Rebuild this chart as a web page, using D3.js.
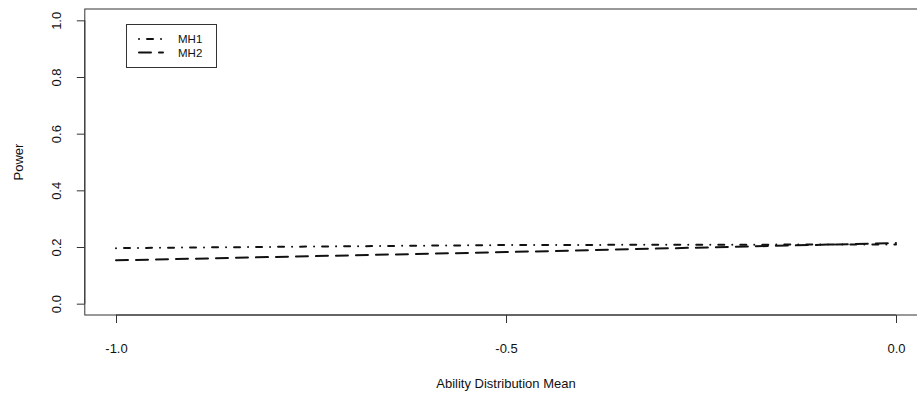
<!DOCTYPE html>
<html>
<head>
<meta charset="utf-8">
<script src="https://cdn.jsdelivr.net/npm/d3@7/dist/d3.min.js"></script>
<style>
  html, body { margin: 0; padding: 0; background: #fff; }
  svg { display: block; }
  text { font-family: "Liberation Sans", Arial, Helvetica, sans-serif; fill: #111; }
</style>
</head>
<body>
<svg id="chart" width="917" height="393"></svg>
<script>
// Power of two Mantel-Haenszel variants across ability distribution means
const abilityMeans = [-1.0, -0.5, 0.0];
const powerMH1 = [0.196, 0.207, 0.209];
const powerMH2 = [0.153, 0.182, 0.214];
const seriesNames = ["MH1", "MH2"];
const xTicks = [-1.0, -0.5, 0.0];
const yTicks = [0.0, 0.2, 0.4, 0.6, 0.8, 1.0];

const svg = d3.select("#chart");
const fontSize = 13;
// plain hyphen for negative numbers, one decimal place
const fmt = d => (d < 0 ? "-" : "") + Math.abs(d).toFixed(1);

// plot region in pixels
const plot = { left: 84.8, right: 927.2, top: 9, bottom: 315 };

// 4% padding around the data ranges
const xPad = 0.04 * 1.0, yPad = 0.04 * 1.0;
const x = d3.scaleLinear().domain([-1 - xPad, 0 + xPad]).range([plot.left, plot.right]);
const y = d3.scaleLinear().domain([0 - yPad, 1 + yPad]).range([plot.bottom, plot.top]);

const axisColor = "#333";

// box around the plot
svg.append("rect")
  .attr("x", plot.left).attr("y", plot.top)
  .attr("width", plot.right - plot.left).attr("height", plot.bottom - plot.top)
  .attr("fill", "none").attr("stroke", axisColor).attr("stroke-width", 1);

// x axis
const xAxis = d3.axisBottom(x).tickValues(xTicks).tickFormat(fmt).tickSize(8);
const gx = svg.append("g").attr("transform", `translate(0,${plot.bottom})`).call(xAxis);
gx.select(".domain").attr("d", `M${x(-1)},0H${x(0)}`).attr("stroke", axisColor);
gx.selectAll(".tick line").attr("stroke", axisColor);
gx.selectAll(".tick text").attr("font-size", fontSize).attr("font-family", null).style("fill", "#111")
  .attr("y", 0).attr("dy", "0").attr("transform", "translate(0,38)");

// y axis with labels running along the axis
const yAxis = d3.axisLeft(y).tickValues(yTicks).tickFormat(fmt).tickSize(8);
const gy = svg.append("g").attr("transform", `translate(${plot.left},0)`).call(yAxis);
gy.select(".domain").attr("d", `M0,${y(0)}V${y(1)}`).attr("stroke", axisColor);
gy.selectAll(".tick line").attr("stroke", axisColor);
gy.selectAll(".tick text")
  .attr("font-size", fontSize).attr("font-family", null).style("fill", "#111")
  .attr("x", null).attr("dy", null)
  .attr("text-anchor", "middle")
  .attr("transform", "translate(-24,0) rotate(-90)");

// axis titles
svg.append("text")
  .attr("x", x(-0.5)).attr("y", 388)
  .attr("text-anchor", "middle").attr("font-size", fontSize)
  .text("Ability Distribution Mean");
svg.append("text")
  .attr("transform", `translate(23,${(plot.top + plot.bottom) / 2}) rotate(-90)`)
  .attr("text-anchor", "middle").attr("font-size", fontSize)
  .text("Power");

// series lines
const lw = 2;
const dashMH1 = [1, 3, 4, 3].map(v => v * lw);   // dot-dash
const dashMH2 = [7, 3].map(v => v * lw);         // long dash
const styles = [
  { name: seriesNames[0], values: powerMH1, dash: dashMH1 },
  { name: seriesNames[1], values: powerMH2, dash: dashMH2 }
];
const line = d3.line().x((d, i) => x(abilityMeans[i])).y(d => y(d));

// round caps widen every segment by the line width, so the gaps shrink accordingly
function capDash(arr) {
  return arr.map((v, i) => i % 2 === 0 ? Math.max(v - lw, 0.01) : v + lw).join(",");
}

styles.forEach(s => {
  svg.append("path")
    .datum(s.values)
    .attr("d", line)
    .attr("fill", "none")
    .attr("stroke", "#111")
    .attr("stroke-width", lw)
    .attr("stroke-linecap", "round")
    .attr("stroke-dasharray", capDash(s.dash));
});

// legend
const legend = svg.append("g");
legend.append("rect")
  .attr("x", 126.5).attr("y", 24.5).attr("width", 90).attr("height", 43)
  .attr("fill", "#fff").attr("stroke", axisColor).attr("stroke-width", 1);
styles.forEach((s, i) => {
  const ly = 39 + i * 13.5;
  legend.append("line")
    .attr("x1", 139).attr("x2", 163).attr("y1", ly).attr("y2", ly)
    .attr("stroke", "#111").attr("stroke-width", lw)
    .attr("stroke-linecap", "round")
    .attr("stroke-dasharray", capDash(s.dash));
  legend.append("text")
    .attr("x", 178).attr("y", ly).attr("dy", "0.36em")
    .attr("font-size", 11.5)
    .text(s.name);
});
</script>
</body>
</html>
